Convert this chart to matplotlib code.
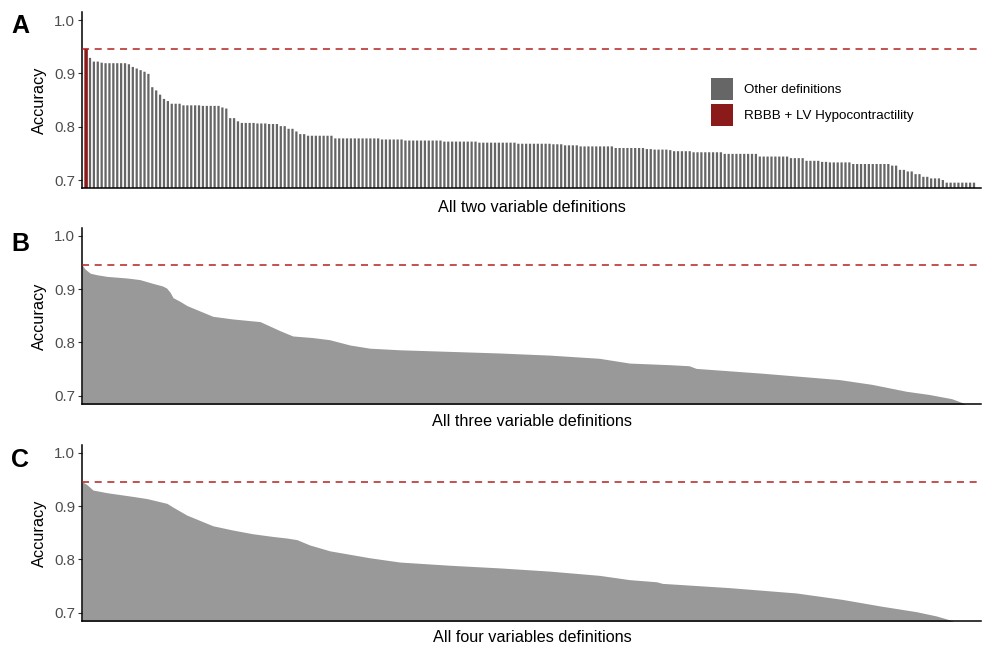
import numpy as np
import matplotlib
matplotlib.use("Agg")
import matplotlib.pyplot as plt
from matplotlib.patches import Patch

plt.rcParams["font.family"] = ["Liberation Sans", "DejaVu Sans"]

# ---------------- data ----------------
# Panel A: all two-variable definitions (sorted by accuracy)
best_label = "RBBB + LV Hypocontractility"
best_accuracy = 0.946
other_acc_levels = [0.929, 0.922, 0.920, 0.919, 0.917, 0.912, 0.909, 0.906, 0.903, 0.899,
                    0.874, 0.868, 0.860, 0.852, 0.848, 0.843, 0.840, 0.839, 0.836, 0.834,
                    0.816, 0.810, 0.807, 0.806, 0.805, 0.801, 0.796, 0.791, 0.786, 0.783,
                    0.778, 0.776, 0.774, 0.772, 0.770, 0.768, 0.767, 0.765, 0.763, 0.760,
                    0.758, 0.757, 0.756, 0.754, 0.752, 0.749, 0.744, 0.741, 0.736, 0.734,
                    0.733, 0.730, 0.727, 0.719, 0.716, 0.711, 0.706, 0.703, 0.700, 0.695]
other_acc_counts = [1, 2, 1, 6, 1, 1, 1, 1, 1, 1,
                    1, 1, 1, 1, 1, 3, 5, 5, 1, 1,
                    2, 1, 4, 3, 3, 2, 2, 1, 2, 7,
                    12, 6, 10, 9, 10, 9, 3, 4, 9, 8,
                    2, 4, 1, 5, 8, 9, 8, 4, 4, 2,
                    6, 10, 2, 2, 2, 2, 2, 3, 1, 8]

# Panel B: all three-variable definitions (rank -> accuracy profile)
three_var_total = 1540
three_var_rank = [0, 5, 14, 26, 43, 77, 99, 121, 138, 145, 151, 156, 168, 180, 202, 224,
                  258, 305, 317, 339, 361, 395, 424, 459, 493, 544, 630, 715, 801, 886,
                  938, 1006, 1040, 1052, 1165, 1297, 1353, 1412, 1451, 1490, 1507, 1519, 1539]
three_var_acc = [0.946, 0.938, 0.930, 0.927, 0.924, 0.921, 0.918, 0.911, 0.906, 0.902,
                 0.894, 0.884, 0.877, 0.869, 0.859, 0.849, 0.844, 0.839, 0.833, 0.822,
                 0.812, 0.809, 0.805, 0.795, 0.789, 0.786, 0.783, 0.780, 0.776, 0.770,
                 0.761, 0.758, 0.756, 0.751, 0.742, 0.730, 0.721, 0.708, 0.702, 0.694,
                 0.687, 0.680, 0.670]

# Panel C: all four-variable definitions (rank -> accuracy profile)
four_var_total = 7315
four_var_rank = [0, 41, 89, 203, 415, 528, 691, 740, 853, 959, 1065, 1227, 1390, 1552,
                 1666, 1748, 1853, 2016, 2341, 2585, 2991, 3398, 3804, 4211, 4454, 4674,
                 4722, 5267, 5812, 6185, 6511, 6787, 6950, 7055, 7136, 7315]
four_var_acc = [0.946, 0.940, 0.930, 0.925, 0.918, 0.914, 0.905, 0.898, 0.883, 0.873,
                0.863, 0.855, 0.848, 0.843, 0.840, 0.837, 0.827, 0.816, 0.803, 0.795,
                0.789, 0.784, 0.778, 0.770, 0.762, 0.758, 0.755, 0.747, 0.737, 0.725,
                0.712, 0.702, 0.694, 0.687, 0.680, 0.670]

ytick_values = [0.7, 0.8, 0.9, 1.0]
ytick_labels = ["0.7", "0.8", "0.9", "1.0"]
x_titles = ["All two variable definitions", "All three variable definitions",
            "All four variables definitions"]
panel_letters = ["A", "B", "C"]
legend_labels = ["Other definitions", best_label]
y_title = "Accuracy"

# ---------------- style ----------------
W, H = 982, 647
gray_bar = "#666666"
red_bar = "#8B1A1A"
gray_area = "#999999"
dash_color = "#B22222"

fig = plt.figure(figsize=(W / 100, H / 100), dpi=100)


def add_ax(x, y, w, h):
    return fig.add_axes([x / W, 1 - (y + h) / H, w / W, h / H])


axA = add_ax(82, 12, 899, 176)
axB = add_ax(82, 228, 899, 175.5)
axC = add_ax(82, 444.7, 899, 176)

# Panel A bars
other_vals = np.repeat(other_acc_levels, other_acc_counts)
n_other = len(other_vals)
axA.bar([1], [best_accuracy], width=0.9, color=red_bar, linewidth=0, snap=False)
axA.bar(np.arange(2, n_other + 2), other_vals, width=0.58, color=gray_bar,
        linewidth=0, snap=False)
axA.set_xlim(-0.05, n_other + 2.8)

# Panels B and C areas
axB.fill_between(three_var_rank, 0, three_var_acc, color=gray_area, linewidth=0)
axB.set_xlim(0, three_var_total)
axC.fill_between(four_var_rank, 0, four_var_acc, color=gray_area, linewidth=0)
axC.set_xlim(0, four_var_total)

for ax in (axA, axB, axC):
    ax.axhline(best_accuracy, color=dash_color, lw=1.1, linestyle=(0, (4.6, 3.7)), zorder=3)
    ax.set_ylim(0.685, 1.015)
    ax.set_yticks(ytick_values)
    ax.set_yticklabels(ytick_labels)
    ax.set_xticks([])
    for s in ("top", "right"):
        ax.spines[s].set_visible(False)
    for s in ("left", "bottom"):
        ax.spines[s].set_linewidth(1.1)
        ax.spines[s].set_color("black")
    ax.tick_params(axis="y", length=3, width=0.8, color="#333333", labelsize=10.8,
                   labelcolor="#4D4D4D", pad=2)
    ax.set_facecolor("white")

# titles
label_y = [207, 421, 637]
ylab_y = [100, 316, 533]
letter_base = [33, 251, 467]
for i in range(3):
    fig.text(532 / W, 1 - label_y[i] / H, x_titles[i], ha="center", va="center",
             fontsize=11.7, color="black")
    fig.text(39 / W, 1 - ylab_y[i] / H, y_title, ha="center", va="center",
             rotation=90, fontsize=11.7, color="black")
    fig.text(11 / W, 1 - letter_base[i] / H, panel_letters[i], ha="left", va="baseline",
             fontsize=18, fontweight="bold", color="black")

handles = [Patch(facecolor=gray_bar, edgecolor="none"), Patch(facecolor=red_bar, edgecolor="none")]
fig.legend(handles, legend_labels, loc="upper left", bbox_to_anchor=(711 / W, 1 - 78 / H),
           bbox_transform=fig.transFigure, frameon=False, fontsize=9.6,
           handlelength=1.65, handleheight=2.17, handletextpad=0.8, labelspacing=0.3,
           borderpad=0, borderaxespad=0)

fig.savefig("out.png", dpi=100, facecolor="white")
